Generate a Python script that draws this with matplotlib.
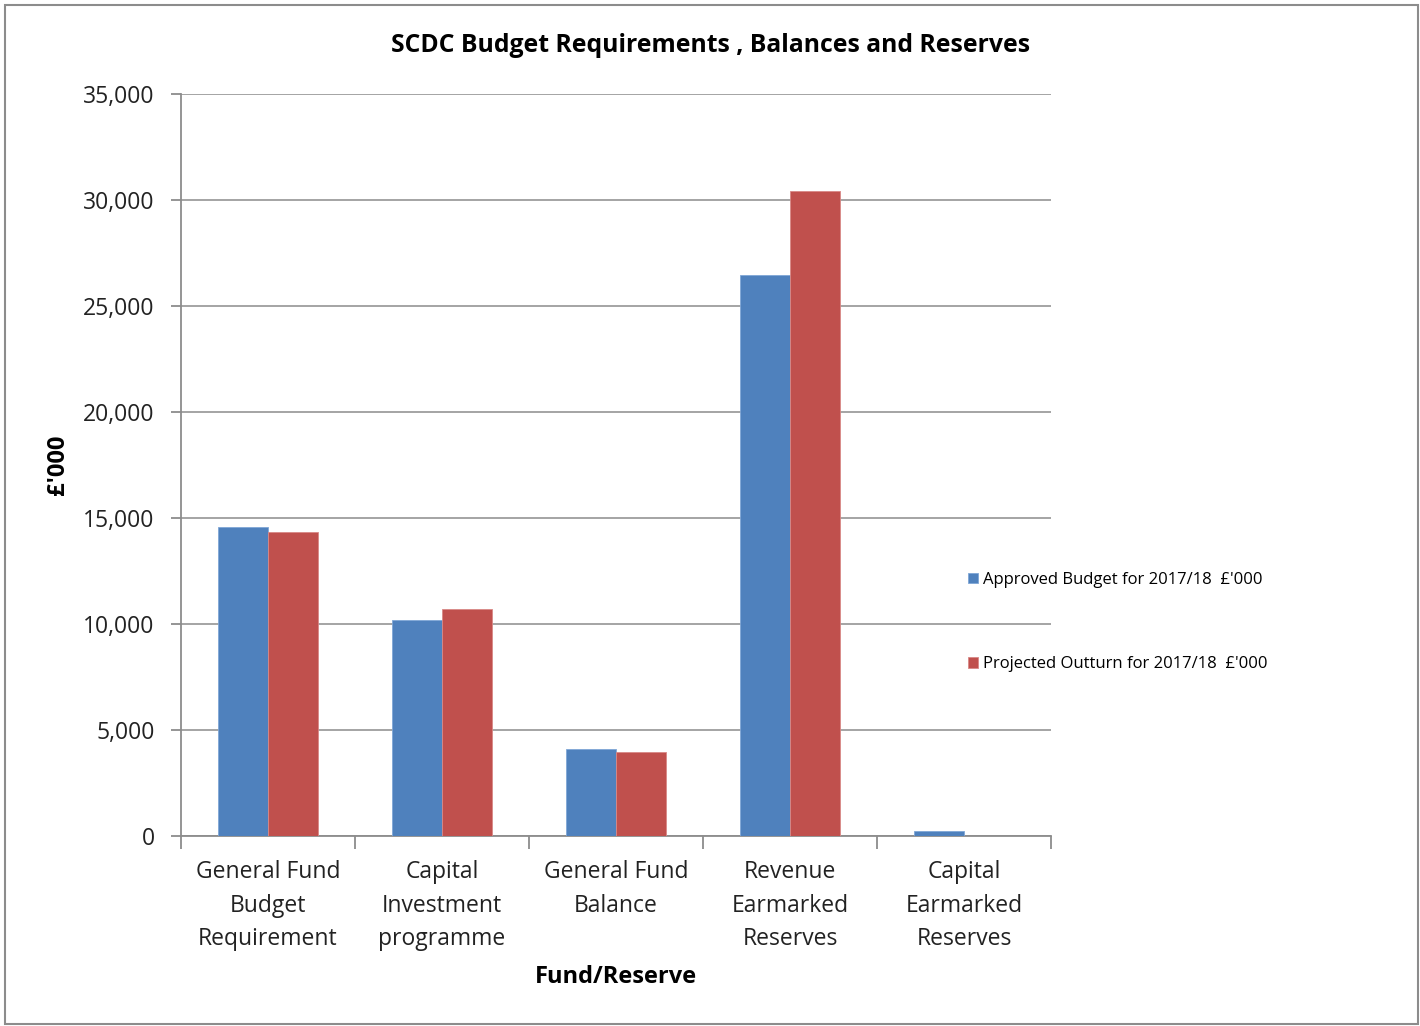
import matplotlib
matplotlib.use("Agg")
import matplotlib.pyplot as plt
import numpy as np
from matplotlib.patches import Rectangle

categories = ["General Fund\nBudget\nRequirement", "Capital\nInvestment\nprogramme",
              "General Fund\nBalance", "Revenue\nEarmarked\nReserves", "Capital\nEarmarked\nReserves"]
approved = [14580, 10190, 4090, 26450, 220]
projected = [14340, 10710, 3960, 30420, 0]
series_names = ["Approved Budget for 2017/18  £'000", "Projected Outturn for 2017/18  £'000"]
yticks = [0, 5000, 10000, 15000, 20000, 25000, 30000, 35000]

plt.rcParams['font.family'] = ['Open Sans', 'DejaVu Sans']

fig = plt.figure(figsize=(14.2, 10.26), dpi=100)
ax = fig.add_axes([181/1420, 1-836/1026, (1051-181)/1420, (836-94)/1026])

x = np.arange(len(categories))
w = 0.286
ax.bar(x - w/2, approved, w, color='#4F81BD', edgecolor='#7FA6D6', linewidth=0.6, label=series_names[0], zorder=3)
ax.bar(x + w/2, projected, w, color='#C0504D', edgecolor='#D98886', linewidth=0.6, label=series_names[1], zorder=3)

ax.set_xlim(-0.5, len(categories) - 0.5)
ax.set_ylim(0, 35000)
ax.set_yticks(yticks)
ax.set_yticklabels([f"{v:,}" for v in yticks], fontsize=16.5, color='#222222')
ax.yaxis.grid(True, color='#8C8C8C', linewidth=1.1, zorder=0)
ax.set_axisbelow(True)

ax.set_xticks(x)
ax.set_xticklabels(categories, fontsize=16.5, linespacing=1.55, color='#222222')
ax.set_xticks(np.arange(len(categories) + 1) - 0.5, minor=True)
ax.tick_params(axis='x', which='major', length=0, pad=17)
ax.tick_params(axis='x', which='minor', length=9, color='#8C8C8C', width=1.3)
ax.tick_params(axis='y', length=7, color='#8C8C8C', width=1.3, pad=12)

for s in ['top', 'right']:
    ax.spines[s].set_visible(False)
for s in ['left', 'bottom']:
    ax.spines[s].set_color('#8C8C8C')
    ax.spines[s].set_linewidth(1.3)

ax.set_xlabel("Fund/Reserve", fontsize=17, fontweight='bold')
ax.xaxis.set_label_coords(0.5, -(965-836)/742)
ax.set_ylabel("£'000", fontsize=17, fontweight='bold')
ax.yaxis.set_label_coords(-(181-70)/870, 0.5)
fig.text(711/1420, 1-45/1026, "SCDC Budget Requirements , Balances and Reserves",
         fontsize=17.8, fontweight='bold', ha='center', va='center')

leg = ax.legend(loc='center left', bbox_to_anchor=(953/1420, 1-622/1026), bbox_transform=fig.transFigure,
                frameon=False, fontsize=12, handlelength=0.6, handleheight=0.6, handletextpad=0.3,
                labelspacing=4.1)

fig.add_artist(Rectangle((5/1420, 2/1026), 1413/1420, 1019/1026, transform=fig.transFigure,
                         fill=False, edgecolor='#8C8C8C', linewidth=1.5))

fig.savefig("out.png", dpi=100, facecolor='white')
